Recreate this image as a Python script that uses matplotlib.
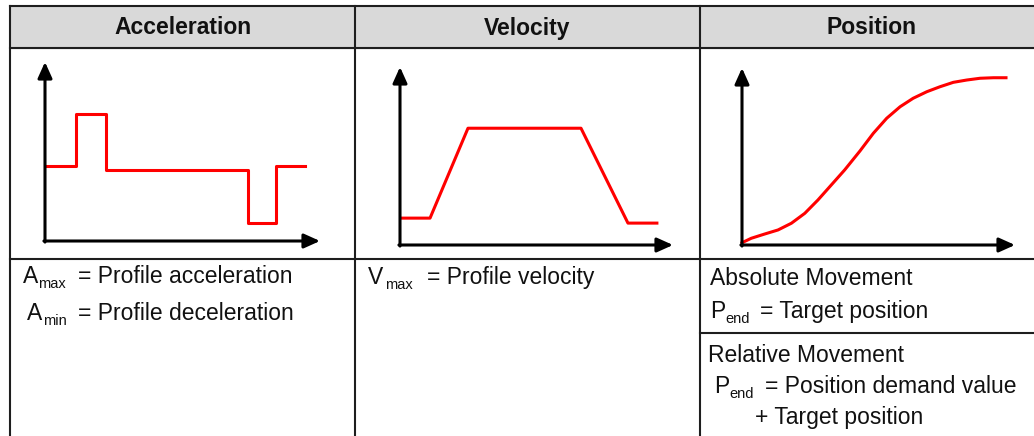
import matplotlib
matplotlib.use("Agg")
import matplotlib.pyplot as plt

plt.rcParams['font.family'] = ['Liberation Sans', 'DejaVu Sans']

# ---- data ----
headers = ['Acceleration', 'Velocity', 'Position']

# acceleration profile (step shape, arbitrary units 0..10)
acc_t = [0.06, 1.13, 2.22, 7.38, 8.40, 9.45]
acc_v = [4.19, 7.09, 3.97, 1.02, 4.19, 4.19]

# velocity profile (trapezoid)
vel_t = [0.07, 1.10, 2.49, 6.63, 8.35, 9.41]
vel_v = [1.51, 1.51, 6.56, 6.56, 1.23, 1.23]

# position profile (S-curve)
pos_t = [0.0, 0.34, 0.83, 1.32, 1.81, 2.30, 2.78, 3.27, 3.76, 4.32, 4.81,
         5.30, 5.79, 6.27, 6.77, 7.25, 7.74, 8.23, 8.72, 9.21, 9.67]
pos_v = [0.13, 0.38, 0.62, 0.85, 1.23, 1.79, 2.54, 3.39, 4.24, 5.31, 6.31,
         7.16, 7.81, 8.29, 8.66, 8.94, 9.19, 9.32, 9.42, 9.45, 9.45]

# description texts: (symbol, subscript, text)
desc_rows = [
    ('A', 'max', '= Profile acceleration'),
    ('A', 'min', '= Profile deceleration'),
    ('V', 'max', '= Profile velocity'),
    ('P', 'end', '= Target position'),
    ('P', 'end', '= Position demand value'),
]
plain_rows = ['Absolute Movement', 'Relative Movement', '+ Target position']

# ---- layout (pixels) ----
W, H = 1034, 436
fig = plt.figure(figsize=(W / 100, H / 100), dpi=100)
base = fig.add_axes([0, 0, 1, 1])
base.set_xlim(0, W)
base.set_ylim(H, 0)
base.axis('off')

line_c = '#1e1e1e'
lw_tab = 1.5
top, head_bot, row_bot, sub_div = 6, 48.5, 258.5, 332.5
col_x = [10, 355, 700, 1040]

base.fill_between([col_x[0], W], top, head_bot, color='#d9d9d9', zorder=0)
base.plot([col_x[0], W], [top, top], color=line_c, lw=lw_tab)
base.plot([col_x[0], W], [head_bot, head_bot], color=line_c, lw=lw_tab)
base.plot([col_x[0], W], [row_bot, row_bot], color=line_c, lw=lw_tab)
base.plot([col_x[2], W], [sub_div, sub_div], color=line_c, lw=lw_tab)
for x in col_x[:3]:
    base.plot([x, x], [top, H], color=line_c, lw=lw_tab)

head_cx = [182.5, 527.5, 871]
for cx, lab in zip(head_cx, headers):
    base.text(cx, 34.5, lab, ha='center', va='baseline', fontsize=16.5,
              fontweight='bold', color='#111111')

# description rows: symbol x, baseline, subscript x, text x
desc_pos = [
    (23, 283, 38, 78),
    (27, 320, 43, 78),
    (368, 284, 385, 427),
    (710, 318, 725, 760),
    (714, 393, 729, 765),
]
fs = 16.5
fs_sub = 10.5
for (sym, sub, txt), (xs, yb, xsub, xt) in zip(desc_rows, desc_pos):
    base.text(xs, yb, sym, fontsize=fs, va='baseline', color='#111111')
    base.text(xsub, yb + 5, sub, fontsize=fs_sub, va='baseline', color='#111111')
    base.text(xt, yb, txt, fontsize=fs, va='baseline', color='#111111')

plain_pos = [(710, 285), (708, 362), (755, 424)]
for txt, (x, yb) in zip(plain_rows, plain_pos):
    base.text(x, yb, txt, fontsize=fs, va='baseline', color='#111111')

# ---- mini plots ----
# (origin x, origin y, x tip, y tip) in pixels
panels = [(45, 241, 320, 62), (400, 245, 673, 67), (742, 245, 1015, 68)]
series = [(acc_t, acc_v, 'steps-post'), (vel_t, vel_v, 'default'),
          (pos_t, pos_v, 'default')]

for (x0, y0, x1, y1), (t, v, ds) in zip(panels, series):
    ax = fig.add_axes([x0 / W, 1 - y0 / H, (x1 - x0) / W, (y0 - y1) / H])
    ax.set_xlim(0, 10)
    ax.set_ylim(0, 10)
    ax.axis('off')
    ax.patch.set_alpha(0)
    ax.plot(t, v, color='#ff0000', lw=2.2, drawstyle=ds, clip_on=False,
            solid_joinstyle='round', zorder=2)
    arrow = dict(arrowstyle='-|>,head_length=0.8,head_width=0.36',
                 mutation_scale=12, lw=2.2, color='black',
                 shrinkA=0, shrinkB=0)
    ax.annotate('', xy=(1, 0), xytext=(-0.004, 0), xycoords='axes fraction',
                arrowprops=arrow, annotation_clip=False, zorder=3)
    ax.annotate('', xy=(0, 1), xytext=(0, -0.006), xycoords='axes fraction',
                arrowprops=arrow, annotation_clip=False, zorder=3)

fig.savefig('out.png', dpi=100)
